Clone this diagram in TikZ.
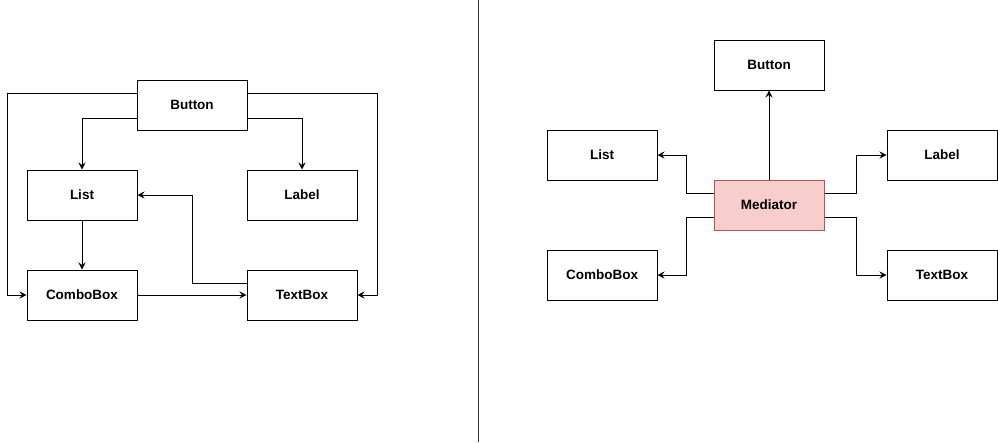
\documentclass[tikz,border=0pt]{standalone}
\usepackage{fontspec}
\setmainfont{Liberation Sans}
\usetikzlibrary{arrows.meta}
\definecolor{medfill}{HTML}{F8CECC}
\definecolor{medline}{HTML}{B85450}
\begin{document}
\begin{tikzpicture}[x=1pt,y=-1pt,
  box/.style={draw,line width=1pt,minimum width=110pt,minimum height=50pt,inner sep=0pt,font=\fontsize{13.5}{16}\selectfont\bfseries},
  conn/.style={line width=1pt,-{Stealth[length=7pt,width=7pt,inset=2.5pt]}}]
\useasboundingbox (0,0) rectangle (998,442);
% left diagram
\node[box] (lb) at (192,105) {Button};
\node[box] (ll) at (82,195) {List};
\node[box] (lla) at (302,195) {Label};
\node[box] (lc) at (82,295) {ComboBox};
\node[box] (lt) at (302,295) {TextBox};
\draw[conn] (lb.west |- 0,93) -| (7,295) -- (lc.west);
\draw[conn] (lb.east |- 0,93) -| (377,295) -- (lt.east);
\draw[conn] (lb.west |- 0,118) -| (ll.north);
\draw[conn] (lb.east |- 0,118) -| (lla.north);
\draw[conn] (ll.south) -- (lc.north);
\draw[conn] (lc.east) -- (lt.west);
\draw[conn] (lt.west |- 0,283) -| (192,195) -- (ll.east);
% divider
\coordinate (dt) at (478,0);
\coordinate (db) at (478,442);
\draw[line width=1pt,black!80] (dt) -- (db);
% right diagram
\node[box] (rb) at (769,65) {Button};
\node[box] (rl) at (602,155) {List};
\node[box] (rla) at (942,155) {Label};
\node[box,fill=medfill,draw=medline] (rm) at (769,205) {Mediator};
\node[box] (rc) at (602,275) {ComboBox};
\node[box] (rt) at (942,275) {TextBox};
\draw[conn] (rm.north) -- (rb.south);
\draw[conn] (rm.west |- 0,193) -| (686,155) -- (rl.east);
\draw[conn] (rm.west |- 0,217) -| (686,275) -- (rc.east);
\draw[conn] (rm.east |- 0,193) -| (856,155) -- (rla.west);
\draw[conn] (rm.east |- 0,217) -| (856,275) -- (rt.west);
\end{tikzpicture}
\end{document}
